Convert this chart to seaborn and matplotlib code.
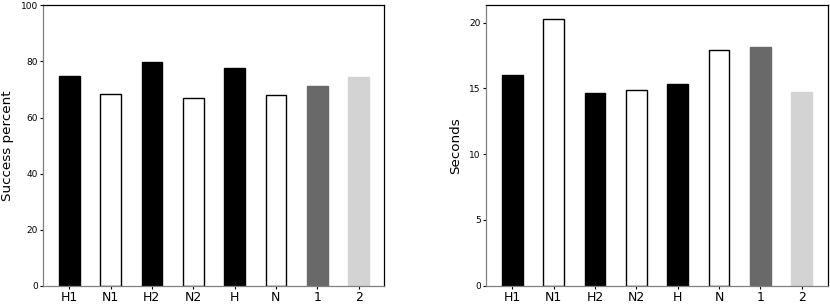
import matplotlib
matplotlib.use("Agg")
import matplotlib.pyplot as plt
import seaborn as sns
import pandas as pd
from matplotlib.ticker import MultipleLocator, FormatStrFormatter

categories = ["H1", "N1", "H2", "N2", "H", "N", "1", "2"]
success = [74.8, 68.5, 79.8, 67.1, 77.6, 67.9, 71.4, 74.4]
seconds = [16.02, 20.27, 14.68, 14.88, 15.34, 17.9, 18.15, 14.75]
colors = ["black", "white", "black", "white", "black", "white", "dimgray", "lightgray"]

plt.rcParams["font.family"] = ["DejaVu Sans"]

fig = plt.figure(figsize=(8.3, 3.07), dpi=100)
ax1 = fig.add_axes([0.0522, 0.0694, 0.411, 0.913])
ax2 = fig.add_axes([0.586, 0.0694, 0.411, 0.913])

pal = dict(zip(categories, colors))
for ax, vals, label, ylim, step in [(ax1, success, "Success percent", (0, 100), 20),
                                    (ax2, seconds, "Seconds", (0, 21.3), 5)]:
    df = pd.DataFrame({"cat": categories, "val": vals})
    sns.barplot(data=df, x="cat", y="val", hue="cat", palette=pal, width=0.5,
                legend=False, ax=ax, order=categories, hue_order=categories,
                saturation=1)
    for p, c in zip(ax.patches, colors):
        p.set_edgecolor("black" if c == "white" else c)
        p.set_linewidth(1.0)
    ax.set_xlim(-0.625, 7.625)
    ax.set_ylim(*ylim)
    ax.yaxis.set_major_locator(MultipleLocator(step))
    ax.yaxis.set_major_formatter(FormatStrFormatter("%d"))
    ax.set_xlabel("")
    ax.set_ylabel(label, fontsize=9.7, labelpad=5)
    ax.tick_params(axis="y", labelsize=6.5, length=2, pad=2)
    ax.tick_params(axis="x", labelsize=9, length=2, pad=2)
    for name, s in ax.spines.items():
        s.set_visible(True)
        s.set_color("#808080" if name in ("left", "bottom") else "black")
        s.set_linewidth(0.9)

fig.savefig("out.png", dpi=100)
